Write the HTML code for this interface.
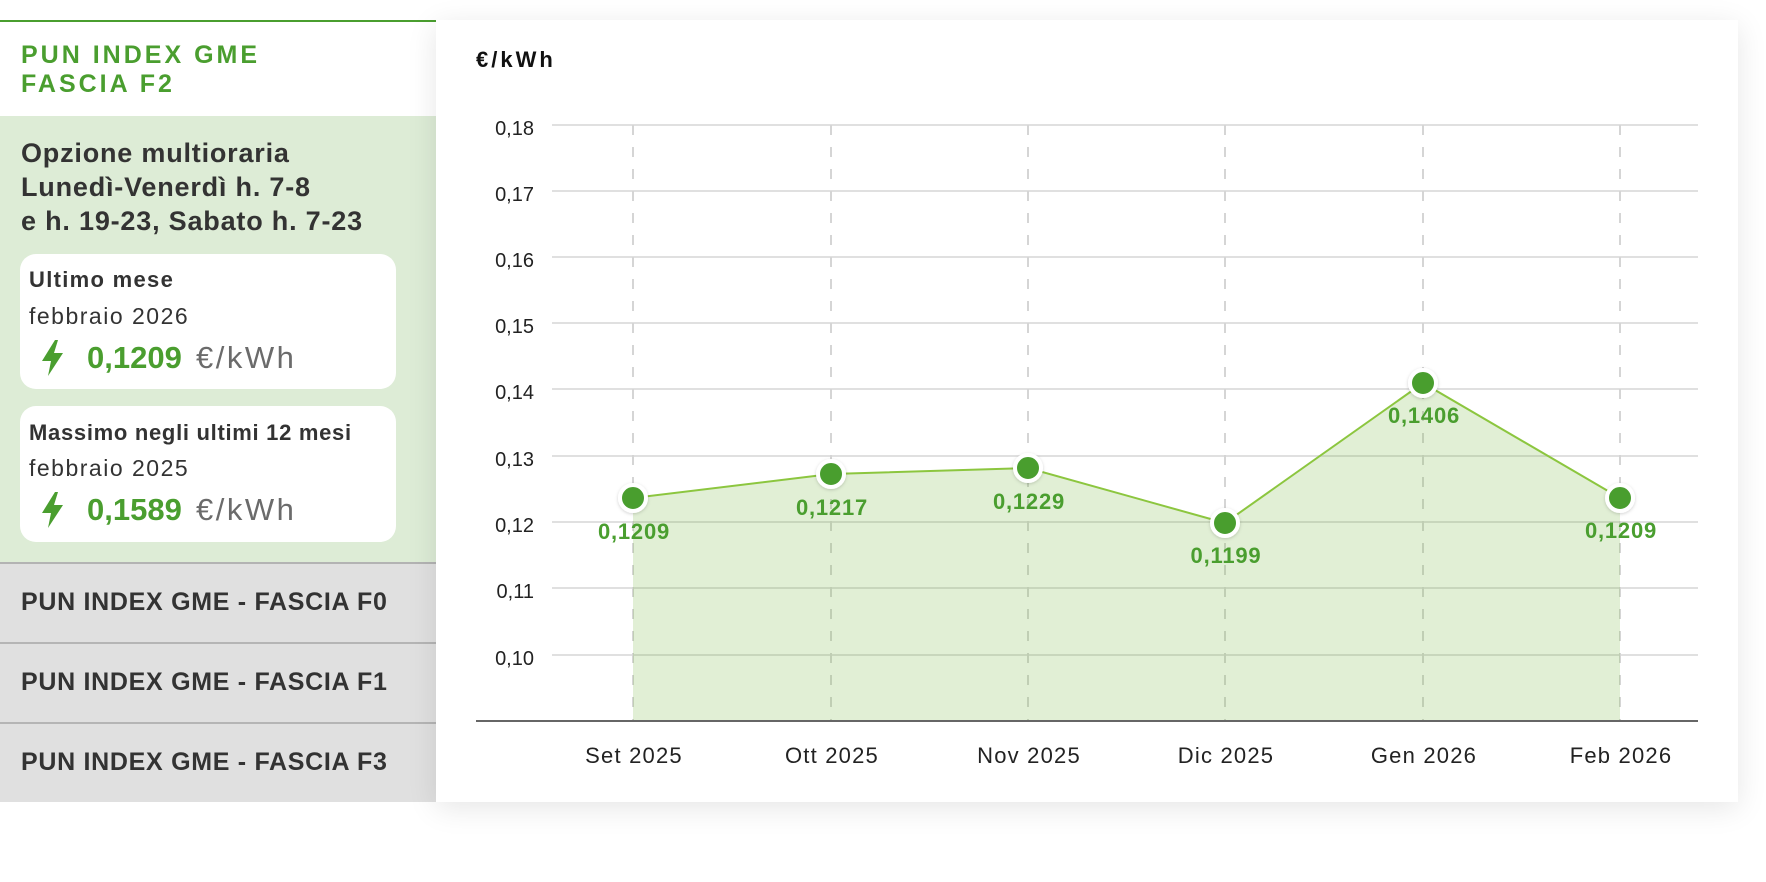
<!DOCTYPE html>
<html>
<head>
<meta charset="utf-8">
<style>
  html,body{margin:0;padding:0;background:#fff;}
  body{width:1766px;height:882px;position:relative;overflow:hidden;font-family:"Liberation Sans",sans-serif;}
  .abs{position:absolute;}
</style>
</head>
<body>
  <!-- left panel -->
  <div class="abs" style="left:0;top:20px;width:436px;height:2px;background:#4a9e2f;"></div>
  <div class="abs" style="left:0;top:22px;width:436px;height:94px;background:#fff;"></div>
  <div class="abs" style="left:0;top:116px;width:436px;height:446px;background:#ddecd6;"></div>
  <div class="abs" style="left:20px;top:254px;width:376px;height:135px;background:#fff;border-radius:16px;"></div>
  <div class="abs" style="left:20px;top:406px;width:376px;height:136px;background:#fff;border-radius:16px;"></div>
  <div class="abs" style="left:0;top:562px;width:436px;height:2px;background:#b3b3b3;"></div>
  <div class="abs" style="left:0;top:564px;width:436px;height:238px;background:#e0e0e0;"></div>
  <div class="abs" style="left:0;top:642px;width:436px;height:2px;background:#b5b5b5;"></div>
  <div class="abs" style="left:0;top:722px;width:436px;height:2px;background:#b5b5b5;"></div>

  <!-- chart card -->
  <div class="abs" style="left:436px;top:20px;width:1302px;height:782px;background:#fff;box-shadow:0 6px 28px rgba(0,0,0,0.10);"></div>

  <svg class="abs" style="left:0;top:0" width="1766" height="882" viewBox="0 0 1766 882" xmlns="http://www.w3.org/2000/svg">
    <defs>
      <filter id="ds" x="-50%" y="-50%" width="200%" height="200%">
        <feDropShadow dx="0" dy="1" stdDeviation="1.5" flood-color="#000" flood-opacity="0.18"/>
      </filter>
    </defs>

    <!-- left panel text -->
    <g font-family="Liberation Sans, sans-serif" font-weight="bold" fill="#4a9e2f" font-size="25" style="letter-spacing:3px">
      <text x="21" y="63">PUN INDEX GME</text>
      <text x="21" y="92">FASCIA F2</text>
    </g>
    <g font-family="Liberation Sans, sans-serif" font-weight="bold" fill="#333" font-size="27" style="letter-spacing:0.8px">
      <text x="21" y="162">Opzione multioraria</text>
      <text x="21" y="196">Lunedì-Venerdì h. 7-8</text>
      <text x="21" y="230">e h. 19-23, Sabato h. 7-23</text>
    </g>

    <!-- card 1 -->
    <text x="29" y="287" font-weight="bold" font-size="22" fill="#333" style="letter-spacing:1.3px">Ultimo mese</text>
    <text x="29" y="324" font-size="23" fill="#333" style="letter-spacing:1.5px">febbraio 2026</text>
    <polygon points="55,340 42,361 51,361 48,376 63,353 54,353 58,340" fill="#4a9e2f"/>
    <text x="87" y="368" font-weight="bold" font-size="31" fill="#4a9e2f">0,1209</text>
    <text x="196" y="368" font-size="31" fill="#6b6b6b" style="letter-spacing:2.5px">€/kWh</text>

    <!-- card 2 -->
    <text x="29" y="440" font-weight="bold" font-size="22" fill="#333" style="letter-spacing:0.7px">Massimo negli ultimi 12 mesi</text>
    <text x="29" y="476" font-size="23" fill="#333" style="letter-spacing:1.5px">febbraio 2025</text>
    <polygon points="55,492 42,513 51,513 48,528 63,505 54,505 58,492" fill="#4a9e2f"/>
    <text x="87" y="520" font-weight="bold" font-size="31" fill="#4a9e2f">0,1589</text>
    <text x="196" y="520" font-size="31" fill="#6b6b6b" style="letter-spacing:2.5px">€/kWh</text>

    <!-- tabs -->
    <g font-weight="bold" font-size="25" fill="#333" style="letter-spacing:0.7px">
      <text x="21" y="610">PUN INDEX GME - FASCIA F0</text>
      <text x="21" y="690">PUN INDEX GME - FASCIA F1</text>
      <text x="21" y="770">PUN INDEX GME - FASCIA F3</text>
    </g>

    <!-- chart -->
    <text x="476" y="67" font-weight="bold" font-size="22" fill="#111" style="letter-spacing:3px">€/kWh</text>

    <!-- gridlines -->
    <g stroke="#e0e0e0" stroke-width="2">
      <line x1="552" y1="125" x2="1698" y2="125"/>
      <line x1="552" y1="191" x2="1698" y2="191"/>
      <line x1="552" y1="257" x2="1698" y2="257"/>
      <line x1="552" y1="323" x2="1698" y2="323"/>
      <line x1="552" y1="389" x2="1698" y2="389"/>
      <line x1="552" y1="456" x2="1698" y2="456"/>
      <line x1="552" y1="522" x2="1698" y2="522"/>
      <line x1="552" y1="588" x2="1698" y2="588"/>
      <line x1="552" y1="655" x2="1698" y2="655"/>
    </g>
    <!-- dashed verticals -->
    <g stroke="#d5d5d5" stroke-width="2" stroke-dasharray="10 12">
      <line x1="633" y1="125" x2="633" y2="721"/>
      <line x1="831" y1="125" x2="831" y2="721"/>
      <line x1="1028" y1="125" x2="1028" y2="721"/>
      <line x1="1225" y1="125" x2="1225" y2="721"/>
      <line x1="1423" y1="125" x2="1423" y2="721"/>
      <line x1="1620" y1="125" x2="1620" y2="721"/>
    </g>

    <!-- y labels -->
    <g font-size="20" fill="#222" text-anchor="end">
      <text x="534" y="135">0,18</text>
      <text x="534" y="201">0,17</text>
      <text x="534" y="267">0,16</text>
      <text x="534" y="333">0,15</text>
      <text x="534" y="399">0,14</text>
      <text x="534" y="466">0,13</text>
      <text x="534" y="532">0,12</text>
      <text x="534" y="598">0,11</text>
      <text x="534" y="665">0,10</text>
    </g>

    <!-- area -->
    <polygon points="633,498 831,474 1028,468 1225,523 1423,383 1620,498 1620,721 633,721" fill="rgba(115,178,55,0.21)"/>
    <polyline points="633,498 831,474 1028,468 1225,523 1423,383 1620,498" fill="none" stroke="#8cc63f" stroke-width="2"/>

    <!-- axis -->
    <line x1="476" y1="721" x2="1698" y2="721" stroke="#666" stroke-width="2"/>

    <!-- x labels -->
    <g font-size="22" fill="#222" text-anchor="middle" style="letter-spacing:1.2px">
      <text x="634" y="763">Set 2025</text>
      <text x="832" y="763">Ott 2025</text>
      <text x="1029" y="763">Nov 2025</text>
      <text x="1226" y="763">Dic 2025</text>
      <text x="1424" y="763">Gen 2026</text>
      <text x="1621" y="763">Feb 2026</text>
    </g>

    <!-- points -->
    <g fill="#4a9e2f" stroke="#fff" stroke-width="4" filter="url(#ds)">
      <circle cx="633" cy="498" r="13"/>
      <circle cx="831" cy="474" r="13"/>
      <circle cx="1028" cy="468" r="13"/>
      <circle cx="1225" cy="523" r="13"/>
      <circle cx="1423" cy="383" r="13"/>
      <circle cx="1620" cy="498" r="13"/>
    </g>

    <!-- data labels -->
    <g font-weight="bold" font-size="22" fill="#4a9e2f" text-anchor="middle" style="letter-spacing:0.8px">
      <text x="634" y="539">0,1209</text>
      <text x="832" y="515">0,1217</text>
      <text x="1029" y="509">0,1229</text>
      <text x="1226" y="563">0,1199</text>
      <text x="1424" y="423">0,1406</text>
      <text x="1621" y="538">0,1209</text>
    </g>
  </svg>
</body>
</html>
